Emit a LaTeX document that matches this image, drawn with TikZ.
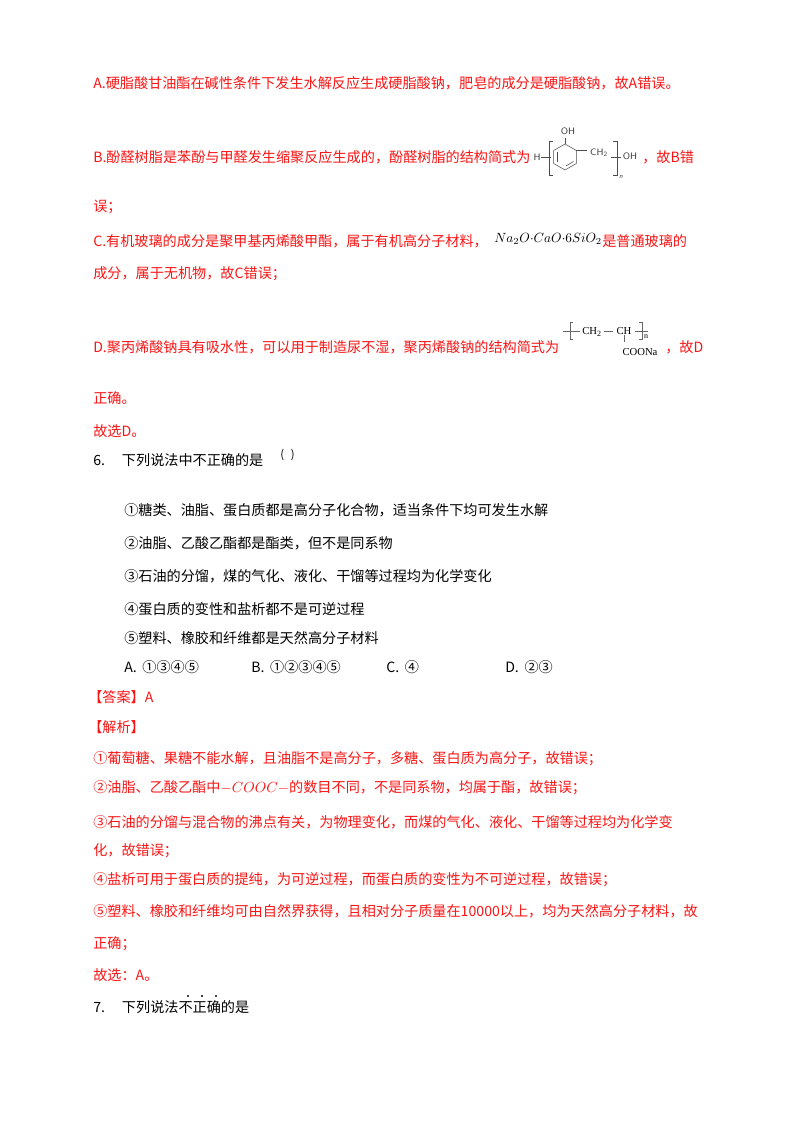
\documentclass[tikz,border=0pt]{standalone}
\usepackage{fontspec}
\setmainfont{Liberation Serif}
\newfontfamily\cjk{Noto Sans CJK SC}
\definecolor{rd}{RGB}{250,20,20}
\begin{document}
\begin{tikzpicture}[x=0.75pt,y=-0.75pt,
  t/.style={anchor=west,inner sep=0,font=\cjk\fontsize{10.6}{12}\selectfont},
  r/.style={t,text=rd},
  sm/.style={inner sep=0,font=\sffamily\fontsize{7}{8}\selectfont,text=black!75}]
\useasboundingbox (0,0) rectangle (800,1132);
\node[r] (a) at (93,83) {A.硬脂酸甘油酯在碱性条件下发生水解反应生成硬脂酸钠，肥皂的成分是硬脂酸钠，故A错误。};
\node[r] (b) at (93,157) {B.酚醛树脂是苯酚与甲醛发生缩聚反应生成的，酚醛树脂的结构简式为};
\node[r] (b2) at (642,157) {，故B错};
% phenol formaldehyde
\node[sm] (h) at (537,157) {H};
\draw[black!70] (541,157)--(551,157);
\draw[black!70] (553,141)--(549,141)--(549,175)--(553,175);
\draw[black!70] (613,141)--(617,141)--(617,175)--(613,175);
\draw[black!70] (565,144)--(553.7,150.5)--(553.7,163.5)--(565,170)--(576.3,163.5)--(576.3,150.5)--cycle;
\draw[black!70] (557,152)--(557,162);
\draw[black!70] (566,166)--(573.5,161.5);
\draw[black!70] (565,144)--(565,138);
\node[sm] (oh1) at (568,131) {OH};
\draw[black!70] (576.3,150.5)--(587,150.5);
\node[sm] (ch2) at (599,153) {CH\textsubscript{2}};
\draw[black!70] (611,157)--(621,157);
\node[sm,font=\sffamily\itshape\fontsize{5}{6}\selectfont] (n1) at (621,177) {n};
\node[sm] (oh2) at (630,156) {OH};
\node[r] (b3) at (93,207) {误；};
\node[r] (c) at (93,241) {C.有机玻璃的成分是聚甲基丙烯酸甲酯，属于有机高分子材料，};
\node[anchor=west,inner sep=0] (f) at (494,239) {$Na_2O{\cdot}CaO{\cdot}6SiO_2$};
\node[r] (c2) at (602,241) {是普通玻璃的};
\node[r] (c3) at (93,274) {成分，属于无机物，故C错误；};
\node[r] (d) at (93,347) {D.聚丙烯酸钠具有吸水性，可以用于制造尿不湿，聚丙烯酸钠的结构简式为};
% polyacrylate
\draw[black!60] (563,331)--(580,331);
\draw[black!60] (573,322)--(570,322)--(570,339)--(573,339);
\node[inner sep=0,font=\fontsize{8}{9}\selectfont] (ch2b) at (592,332) {CH\textsubscript{2}};
\draw[black!60] (604,331)--(613,331);
\node[inner sep=0,font=\fontsize{8}{9}\selectfont] (ch) at (624,331) {CH};
\draw[black!60] (635,331)--(648,331);
\draw[black!60] (639,322)--(642,322)--(642,339)--(639,339);
\node[inner sep=0,font=\fontsize{6}{7}\selectfont] (n2) at (646,337) {n};
\draw[black!60] (ch.south) -- +(0,7);
\node[inner sep=0,font=\fontsize{8}{9}\selectfont] (coona) at (640,352) {COONa};
\node[r] (d2) at (665,347) {，故D};
\node[r] (d3) at (93,398) {正确。};
\node[r] (e) at (93,431) {故选D。};
\node[t] (q6) at (93,460) {6.\hspace{1.2em}下列说法中不正确的是};
\node[t,font=\cjk\fontsize{8.5}{9}\selectfont] (p) at (280,455) {(\hspace{0.6em})};
\node[t] (s1) at (124,510) {①糖类、油脂、蛋白质都是高分子化合物，适当条件下均可发生水解};
\node[t] (s2) at (124,543) {②油脂、乙酸乙酯都是酯类，但不是同系物};
\node[t] (s3) at (124,576) {③石油的分馏，煤的气化、液化、干馏等过程均为化学变化};
\node[t] (s4) at (124,609) {④蛋白质的变性和盐析都不是可逆过程};
\node[t] (s5) at (124,638) {⑤塑料、橡胶和纤维都是天然高分子材料};
\node[t] (oa) at (124,667) {A.\hspace{0.4em}①③④⑤};
\node[t] (ob) at (251,667) {B.\hspace{0.4em}①②③④⑤};
\node[t] (oc) at (386,667) {C.\hspace{0.4em}④};
\node[t] (od) at (505,667) {D.\hspace{0.4em}②③};
\node[r] (ans) at (88,697) {【答案】A};
\node[r] (jx) at (88,727) {【解析】};
\node[r] (j1) at (93,759) {①葡萄糖、果糖不能水解，且油脂不是高分子，多糖、蛋白质为高分子，故错误；};
\node[r] (j2) at (93,788) {②油脂、乙酸乙酯中$-COOC-$的数目不同，不是同系物，均属于酯，故错误；};
\node[r] (j3) at (93,822) {③石油的分馏与混合物的沸点有关，为物理变化，而煤的气化、液化、干馏等过程均为化学变};
\node[r] (j3b) at (93,851) {化，故错误；};
\node[r] (j4) at (93,880) {④盐析可用于蛋白质的提纯，为可逆过程，而蛋白质的变性为不可逆过程，故错误；};
\node[r] (j5) at (93,911) {⑤塑料、橡胶和纤维均可由自然界获得，且相对分子质量在10000以上，均为天然高分子材料，故};
\node[r] (j5b) at (93,944) {正确；};
\node[r] (j6) at (93,975) {故选：A。};
\node[t] (q7) at (93,1007) {7.\hspace{1.2em}下列说法不正确的是};
\foreach \xx in {188,202,216} \fill (\xx,996) circle (1.1);
\end{tikzpicture}
\end{document}
